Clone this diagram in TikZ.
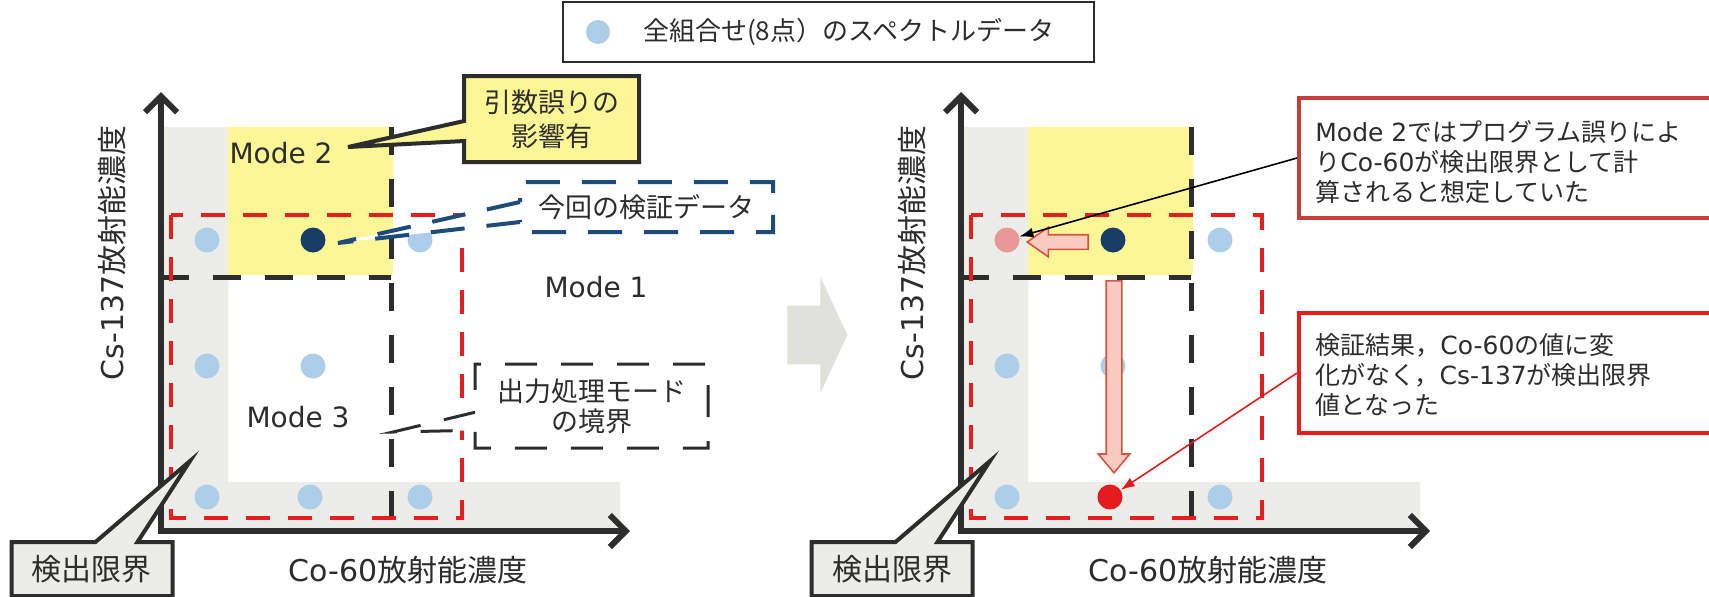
\documentclass[tikz,border=0pt]{standalone}
\usepackage{fontspec}
\setmainfont{Noto Sans CJK JP}
\newfontfamily\engfont{DejaVu Sans}
\usepackage{tikz}
\usetikzlibrary{arrows.meta, shapes.arrows, shapes.callouts}
\usepackage{xcolor}
\definecolor{LimGrey}{RGB}{236,236,233}
\definecolor{ErrYellow}{RGB}{252,246,150}
\definecolor{DotBlue}{RGB}{172,206,232}
\definecolor{DotNavy}{RGB}{22,62,102}
\definecolor{DotPink}{RGB}{232,152,150}
\definecolor{DotRed}{RGB}{228,28,30}
\definecolor{FrameRed}{RGB}{230,30,30}
\definecolor{NoteBlue}{RGB}{30,76,122}
\definecolor{NoteRed}{RGB}{196,62,60}
\definecolor{ShiftPink}{RGB}{248,202,192}
\definecolor{ShiftEdge}{RGB}{214,84,64}
\definecolor{StepGrey}{RGB}{224,224,221}
\definecolor{InkGrey}{RGB}{45,45,45}
\tikzset{%
  axis_line/.style={%
    color=InkGrey,%
    line width=3pt,%
    line join=miter,%
    {Straight Barb[length=8pt, width=16pt]}-{Straight Barb[length=8pt, width=16pt]}%
  },
  mode_bound/.style={%
    color=InkGrey,%
    line width=2.5pt,%
    dash pattern=on 14pt off 12pt%
  },
  red_frame/.style={%
    draw=FrameRed,%
    line width=2pt,%
    dash pattern=on 12pt off 9pt%
  },
  spec_dot/.style={%
    circle,%
    inner sep=0pt,%
    minimum size=12.5pt%
  },
  mode_label/.style={%
    text=InkGrey,%
    font={\engfont\fontsize{14}{17}\selectfont}%
  },
  axis_label/.style={%
    text=InkGrey,%
    font={\fontsize{15}{18}\selectfont}%
  },
  err_note/.style={%
    rectangle callout,%
    draw=InkGrey,%
    line width=2pt,%
    fill=ErrYellow,%
    text=InkGrey,%
    minimum width=87.5pt,%
    minimum height=43pt,%
    callout pointer width=10pt,%
    align=center,%
    font={\fontsize{13.5}{17}\selectfont}%
  },
  data_note/.style={%
    rectangle callout,%
    draw=NoteBlue,%
    line width=2pt,%
    dash pattern=on 17pt off 11pt,%
    fill=white,%
    text=InkGrey,%
    minimum width=126.5pt,%
    minimum height=25pt,%
    callout pointer width=10pt,%
    font={\fontsize{13.5}{17}\selectfont}%
  },
  bound_note/.style={%
    rectangle callout,%
    draw=InkGrey,%
    line width=1.5pt,%
    dash pattern=on 16pt off 12pt,%
    fill=white,%
    text=InkGrey,%
    minimum width=116.5pt,%
    minimum height=42pt,%
    callout pointer width=9pt,%
    align=center,%
    font={\fontsize{13.5}{15}\selectfont}%
  },
  lim_note/.style={%
    rectangle callout,%
    draw=InkGrey,%
    line width=2pt,%
    fill=LimGrey,%
    text=InkGrey,%
    minimum width=80.5pt,%
    minimum height=27pt,%
    callout pointer width=21pt,%
    font={\fontsize{15}{18}\selectfont}%
  },
  result_box/.style={%
    rectangle,%
    line width=2pt,%
    fill=white,%
    anchor=west,%
    minimum width=215pt,%
    minimum height=60pt%
  },
  result_text/.style={%
    text=InkGrey,%
    anchor=west,%
    inner sep=0pt,%
    align=left,%
    font={\fontsize{12.5}{15}\selectfont}%
  },
  note_arrow/.style={%
    line width=0.8pt,%
    -{Latex[length=7pt, width=5pt]}%
  },
  shift_arrow/.style={%
    single arrow,%
    draw=ShiftEdge,%
    line width=0.8pt,%
    fill=ShiftPink,%
    anchor=tail%
  },
}

\begin{document}
\begin{tikzpicture}[x=0.5pt, y=-0.5pt]
  \useasboundingbox [fill=white] (0,0) rectangle (1709,596);

  % both panels share the same plot
  \foreach \side/\ox/\ca/\cc in {L/0/DotBlue/DotBlue, R/800/DotPink/DotRed} {
    \begin{scope}[shift={(\ox,0)}]
      \fill [LimGrey]
        (161,127) -- (228,127) -- (228,482) -- (620,482) -- (620,531) -- (161,531) -- cycle;
      \fill [ErrYellow] (228,127) rectangle (393,275);
      \draw [mode_bound] (161,277) -- (391,277);
      \draw [mode_bound] (391,127) -- (391,531);

      \node [spec_dot, fill=\ca] (\side-a1) at (207,240) {};
      \node [spec_dot, fill=DotNavy] (\side-a2) at (313,240) {};
      \node [spec_dot, fill=DotBlue] (\side-a3) at (420,240) {};
      \node [spec_dot, fill=DotBlue] (\side-b1) at (207,366) {};
      \node [spec_dot, fill=DotBlue] (\side-b2) at (313,366) {};
      \node [spec_dot, fill=DotBlue] (\side-c1) at (207,497) {};
      \node [spec_dot, fill=\cc] (\side-c2) at (310,497) {};
      \node [spec_dot, fill=DotBlue] (\side-c3) at (420,497) {};

      \draw [red_frame] (171,215) rectangle (462,518);

      \coordinate (\side-o) at (161,531);
      \coordinate (\side-ytop) at (161,92);
      \coordinate (\side-xend) at (630,531);
      \draw [axis_line] (\side-ytop) -- (\side-o) -- (\side-xend);

      \node [axis_label, rotate=90] (\side-ylab) at (112,253) {{\engfont Cs-137}放射能濃度};
      \node [axis_label] (\side-xlab) at (408,570) {{\engfont Co-60}放射能濃度};

      \coordinate (\side-limtip) at (190,461);
      \node [lim_note, callout absolute pointer={(\side-limtip)}] (\side-lim)
        at (92,569) {検出限界};
    \end{scope}
  }

  % legend
  \node [draw=InkGrey, line width=1pt, minimum width=265.5pt, minimum height=30pt]
    (legend) at (828.5,32) {};
  \node [spec_dot, fill=DotBlue, minimum size=12pt] (legdot) at (598,32) {};
  \node [anchor=west, text=InkGrey, font={\fontsize{13}{15}\selectfont}]
    (legtext) at (636,32) {全組合せ(8点）のスペクトルデータ};

  % left panel notes
  \node [mode_label] (mode2) at (281,153) {Mode 2};
  \node [mode_label] (mode1) at (596,287) {Mode 1};
  \node [mode_label] (mode3) at (298,417) {Mode 3};

  \coordinate (errtip) at (348,147);
  \node [err_note, callout absolute pointer={(errtip)}] (errnote)
    at (551.5,119) {引数誤りの\\影響有};

  \coordinate (datatip) at (338,243);
  \node [data_note, callout absolute pointer={(datatip)}] (datanote)
    at (646.5,207) {今回の検証データ};

  \coordinate (boundtip) at (393,432);
  \node [bound_note, callout absolute pointer={(boundtip)}] (boundnote)
    at (591.5,406) {出力処理モード\\の境界};

  % step between panels
  \node [single arrow, fill=StepGrey, anchor=tail,
    inner xsep=0pt, inner ysep=14.5pt, minimum height=30pt,
    single arrow head extend=14.25pt, single arrow tip angle=130]
    (step_arrow) at (787,335) {};

  % right panel notes
  \node [shift_arrow, shape border rotate=180, inner sep=3.25pt,
    minimum height=30.5pt, single arrow head extend=3.75pt, single arrow tip angle=70]
    (shift_left) at (1089,242) {};
  \node [shift_arrow, shape border rotate=270, inner sep=3.5pt,
    minimum height=96pt, single arrow head extend=4pt, single arrow tip angle=80]
    (shift_down) at (1114,280) {};

  \node [result_box, draw=NoteRed] (plannote) at (1297,158) {};
  \node [result_text] (plantext) at (1315,162)
    {{\engfont Mode 2}ではプログラム誤りによ\\り{\engfont Co-60}が検出限界として計\\算されると想定していた};
  \node [result_box, draw=FrameRed] (resultnote) at (1297,373) {};
  \node [result_text] (resulttext) at (1315,375)
    {検証結果，{\engfont Co-60}の値に変\\化がなく，{\engfont Cs-137}が検出限界\\値となった};

  \draw [note_arrow] (plannote.west) -- (R-a1);
  \draw [note_arrow, DotRed] (resultnote.west) -- (R-c2);

\end{tikzpicture}
\end{document}
